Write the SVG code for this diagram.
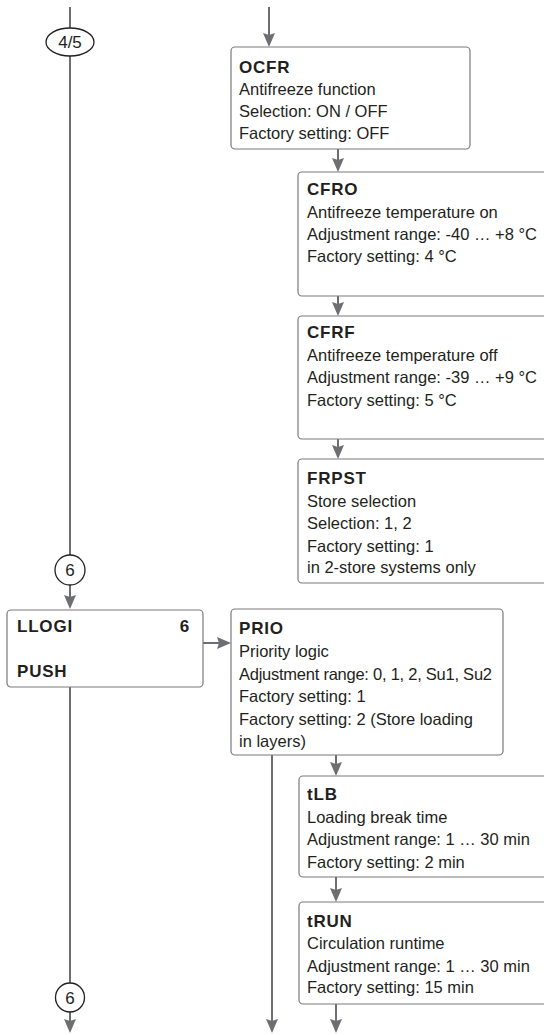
<svg xmlns="http://www.w3.org/2000/svg" width="544" height="1035" viewBox="0 0 544 1035">
<style>
.box{fill:#fff;stroke:#7a7a7c;stroke-width:1.2}
.t{font-family:"Liberation Sans",Arial,sans-serif;font-size:16.5px;fill:#231f20}
.h{font-family:"Liberation Sans",Arial,sans-serif;font-size:17px;font-weight:bold;fill:#231f20;letter-spacing:0.8px}
.c{fill:#fff;stroke:#231f20;stroke-width:1.3}
.ct{font-family:"Liberation Sans",Arial,sans-serif;font-size:17px;fill:#231f20;text-anchor:middle}
.ln{fill:none;stroke:#6d6e71;stroke-width:2}
.ar{fill:none;stroke:#6d6e71;stroke-width:2;marker-end:url(#ah)}
</style>
<defs>
<marker id="ah" viewBox="0 0 14 12" refX="10" refY="6" markerWidth="14" markerHeight="12" markerUnits="userSpaceOnUse" orient="auto">
<path d="M0,0 L14,6 L0,12 L2,6 z" fill="#6d6e71"/>
</marker>
</defs>
<g id="connectors">
<line class="ln" x1="70" y1="7" x2="70" y2="28"/>
<line class="ln" x1="70" y1="56" x2="70" y2="555"/>
<line class="ar" x1="70" y1="585" x2="70" y2="605"/>
<line class="ln" x1="70" y1="687" x2="70" y2="983"/>
<line class="ar" x1="70" y1="1012" x2="70" y2="1029"/>
<line class="ar" x1="269" y1="7" x2="269" y2="43"/>
<line class="ar" x1="338" y1="149" x2="338" y2="168"/>
<line class="ar" x1="338" y1="296" x2="338" y2="312"/>
<line class="ar" x1="338" y1="439" x2="338" y2="455"/>
<line class="ar" x1="203" y1="643" x2="227" y2="643"/>
<line class="ar" x1="336" y1="755" x2="336" y2="772"/>
<line class="ar" x1="336" y1="877" x2="336" y2="898"/>
<line class="ar" x1="336" y1="1004" x2="336" y2="1029"/>
<line class="ar" x1="272" y1="755" x2="272" y2="1029"/>
</g>
<g id="conn45">
<ellipse class="c" cx="70" cy="42" rx="24" ry="14"/>
<text class="ct" x="70" y="48">4/5</text>
</g>
<g id="conn6a">
<circle class="c" cx="70" cy="570" r="15"/>
<text class="ct" x="70" y="576">6</text>
</g>
<g id="conn6b">
<circle class="c" cx="70" cy="997.5" r="14.5"/>
<text class="ct" x="70" y="1003.5">6</text>
</g>
<g id="ocfr">
<rect class="box" x="231" y="47" width="239" height="102" rx="4"/>
<text class="h" x="239" y="73">OCFR</text>
<text class="t" x="239" y="95">Antifreeze function</text>
<text class="t" x="239" y="117">Selection: ON / OFF</text>
<text class="t" x="239" y="139">Factory setting: OFF</text>
</g>
<g id="cfro">
<rect class="box" x="298" y="172" width="262" height="124" rx="4"/>
<text class="h" x="307" y="195">CFRO</text>
<text class="t" x="307" y="218">Antifreeze temperature on</text>
<text class="t" x="307" y="240">Adjustment range: -40 … +8 °C</text>
<text class="t" x="307" y="262">Factory setting: 4 °C</text>
</g>
<g id="cfrf">
<rect class="box" x="298" y="316" width="262" height="123" rx="4"/>
<text class="h" x="307" y="338">CFRF</text>
<text class="t" x="307" y="361">Antifreeze temperature off</text>
<text class="t" x="307" y="383">Adjustment range: -39 … +9 °C</text>
<text class="t" x="307" y="406">Factory setting: 5 °C</text>
</g>
<g id="frpst">
<rect class="box" x="298" y="459" width="262" height="124" rx="4"/>
<text class="h" x="307" y="484">FRPST</text>
<text class="t" x="307" y="507">Store selection</text>
<text class="t" x="307" y="529">Selection: 1, 2</text>
<text class="t" x="307" y="552">Factory setting: 1</text>
<text class="t" x="307" y="573">in 2-store systems only</text>
</g>
<g id="llogi">
<rect class="box" x="7" y="610" width="196" height="77" rx="4"/>
<text class="h" x="17" y="632">LLOGI</text>
<text class="h" x="190" y="632" text-anchor="end">6</text>
<text class="h" x="17" y="677">PUSH</text>
</g>
<g id="prio">
<rect class="box" x="231" y="609" width="272" height="146" rx="4"/>
<text class="h" x="239" y="634">PRIO</text>
<text class="t" x="239" y="657">Priority logic</text>
<text class="t" x="239" y="680" textLength="253" lengthAdjust="spacing">Adjustment range: 0, 1, 2, Su1, Su2</text>
<text class="t" x="239" y="702">Factory setting: 1</text>
<text class="t" x="239" y="725">Factory setting: 2 (Store loading</text>
<text class="t" x="239" y="747">in layers)</text>
</g>
<g id="tlb">
<rect class="box" x="299" y="776" width="262" height="101" rx="4"/>
<text class="h" x="307" y="800">tLB</text>
<text class="t" x="307" y="823">Loading break time</text>
<text class="t" x="307" y="845">Adjustment range: 1 … 30 min</text>
<text class="t" x="307" y="868">Factory setting: 2 min</text>
</g>
<g id="trun">
<rect class="box" x="299" y="902" width="262" height="102" rx="4"/>
<text class="h" x="307" y="927">tRUN</text>
<text class="t" x="307" y="949">Circulation runtime</text>
<text class="t" x="307" y="972">Adjustment range: 1 … 30 min</text>
<text class="t" x="307" y="993">Factory setting: 15 min</text>
</g>
</svg>
